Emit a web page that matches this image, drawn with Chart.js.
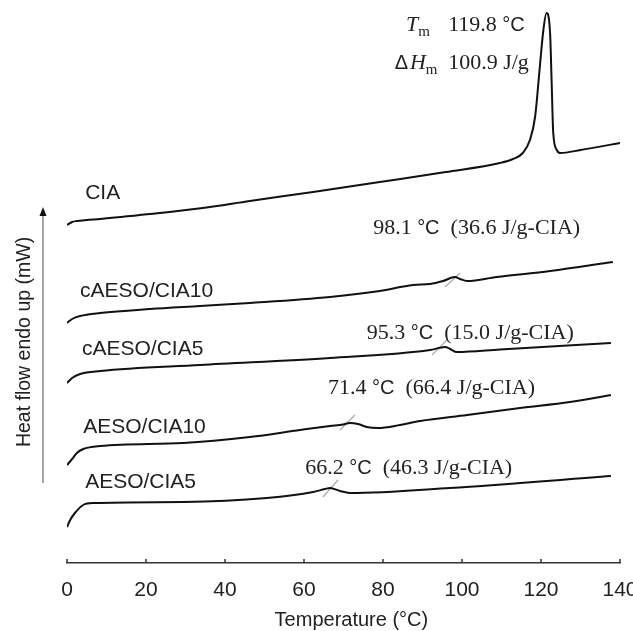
<!DOCTYPE html>
<html><head><meta charset="utf-8">
<script src="https://cdn.jsdelivr.net/npm/chart.js@4.4.0/dist/chart.umd.min.js"></script>
<style>html,body{margin:0;padding:0;background:#fff;}</style>
</head><body>
<canvas id="c" width="633" height="631"></canvas>
<script>
// ---------- data (temperature in °C, heat flow in arbitrary offset units) ----------
const xTicks = [0, 20, 40, 60, 80, 100, 120, 140];
const seriesNames = ['CIA', 'cAESO/CIA10', 'cAESO/CIA5', 'AESO/CIA10', 'AESO/CIA5'];

const ciaT  = [0, 1.3, 2.5, 5, 8.4, 21.0, 34.4, 46.3, 62.3, 79.2, 95.9, 109.6, 112.9, 115.4, 117.2, 118.5, 119.7, 120.6, 121.4, 122.3, 122.7, 123.1, 124.0, 124.8, 130, 140];
const ciaHF = [33.8, 34.1, 34.2, 34.3, 34.4, 34.9, 35.5, 36.2, 37.1, 38.1, 39.1, 40.0, 40.4, 41.0, 42.3, 44.6, 49.6, 53.3, 55.0, 53.0, 48.0, 43.0, 41.3, 41.0, 41.3, 42.0];

const c10T  = [0, 1.3, 3.3, 8.4, 21.0, 33.7, 46.3, 66.6, 79.2, 87.6, 91.9, 95.2, 98.2, 99.5, 101.3, 108.8, 122.3, 138.2];
const c10HF = [24.0, 24.4, 24.7, 25.0, 25.4, 25.7, 26.0, 26.6, 27.2, 27.8, 27.9, 28.2, 28.6, 28.4, 28.2, 28.6, 29.2, 30.1];

const c5T  = [0, 1.3, 3.3, 8.4, 33.7, 66.6, 91.9, 95.7, 97.0, 98.7, 109.6, 137.7];
const c5HF = [18.0, 18.5, 18.9, 19.2, 19.8, 20.5, 21.3, 21.6, 21.4, 21.1, 21.35, 22.0];

const a10T  = [0, 1.3, 2.5, 4.1, 8.4, 29.4, 46.3, 59.0, 66.6, 69.9, 71.6, 73.7, 75.9, 78.7, 84.3, 89.4, 101.3, 114.7, 127.3, 137.7];
const a10HF = [9.8, 10.4, 11.0, 11.4, 11.7, 12.0, 12.6, 13.3, 13.7, 13.85, 14.0, 13.9, 13.6, 13.5, 13.8, 14.2, 14.8, 15.5, 16.1, 16.8];

const a5T  = [0, 0.8, 2.0, 4.1, 6.7, 29.4, 50.6, 62.3, 65.3, 66.6, 69.1, 71.6, 96.9, 137.7];
const a5HF = [3.6, 4.3, 5.0, 5.8, 6.0, 6.1, 6.5, 7.1, 7.4, 7.5, 7.2, 7.0, 7.5, 8.7];

// grey tangent marks at the transitions
const slashT  = [[95.7, 99.5], [92.4, 96.2], [69.1, 72.9], [64.8, 68.6]];
const slashHF = [[27.6, 29.0], [20.8, 22.3], [13.3, 14.8], [6.6, 8.3]];

// annotation texts
const meltTemp = '119.8';
const meltEnthalpy = '100.9';
const transTemp = ['98.1', '95.3', '71.4', '66.2'];
const transEnthalpy = ['36.6', '15.0', '66.4', '46.3'];

// ---------- layout of texts (data coordinates) ----------
const seriesLabelPos = [[4.6, 37.0], [3.3, 27.2], [3.8, 21.4], [4.1, 13.6], [4.6, 8.1]];
const transLabelPos = [[77.5, 33.5], [75.9, 23.0], [66.1, 17.5], [60.3, 9.5]];

const SANS = '"Liberation Sans", Arial, sans-serif';
const SERIF = '"Liberation Serif", "Times New Roman", serif';
const TXT = '#222';

const seriesT = [ciaT, c10T, c5T, a10T, a5T];
const seriesHF = [ciaHF, c10HF, c5HF, a10HF, a5HF];

const datasets = seriesNames.map((n, k) => ({
  label: n,
  data: seriesT[k].map((t, i) => ({x: t, y: seriesHF[k][i]})),
  borderColor: '#111',
  borderWidth: 2,
  pointRadius: 0,
  fill: false,
  cubicInterpolationMode: 'monotone'
}));
slashT.forEach((s, k) => datasets.push({
  label: 'mark' + k,
  data: s.map((t, i) => ({x: t, y: slashHF[k][i]})),
  borderColor: '#aaa',
  borderWidth: 1.2,
  pointRadius: 0,
  fill: false,
  tension: 0
}));

function drawRuns(ctx, x, y, runs) {
  ctx.textBaseline = 'middle';
  ctx.textAlign = 'left';
  for (const r of runs) {
    ctx.font = r.font;
    ctx.fillText(r.text, x, y + (r.dy || 0));
    x += ctx.measureText(r.text).width;
  }
}

const overlay = {
  id: 'overlay',
  afterDraw(chart) {
    const ctx = chart.ctx, xs = chart.scales.x, ys = chart.scales.y, ca = chart.chartArea;
    const px = v => xs.getPixelForValue(v), py = v => ys.getPixelForValue(v);
    ctx.save();
    // inward tick marks
    ctx.strokeStyle = '#333'; ctx.lineWidth = 1.5;
    xTicks.forEach(v => { ctx.beginPath(); ctx.moveTo(px(v), ca.bottom); ctx.lineTo(px(v), ca.bottom - 4); ctx.stroke(); });
    // x title
    ctx.fillStyle = TXT;
    ctx.font = '20px ' + SANS; ctx.textAlign = 'center'; ctx.textBaseline = 'middle';
    ctx.fillText('Temperature (\u00B0C)', px(72), ca.bottom + 57);
    // y arrow
    const ax = ca.left - 24, ay0 = py(8.0), ay1 = py(35.6);
    ctx.strokeStyle = '#888'; ctx.lineWidth = 1.5;
    ctx.beginPath(); ctx.moveTo(ax, ay0); ctx.lineTo(ax, ay1 + 8); ctx.stroke();
    ctx.fillStyle = '#111';
    ctx.beginPath(); ctx.moveTo(ax, ay1); ctx.lineTo(ax - 3.5, ay1 + 9); ctx.lineTo(ax + 3.5, ay1 + 9); ctx.closePath(); ctx.fill();
    // y title
    ctx.save();
    ctx.translate(ca.left - 42, py(22.1));
    ctx.rotate(-Math.PI / 2);
    ctx.fillStyle = TXT; ctx.font = '19.5px ' + SANS; ctx.textAlign = 'center'; ctx.textBaseline = 'middle';
    ctx.fillText('Heat flow endo up (mW)', 0, 0);
    ctx.restore();
    // series labels
    ctx.fillStyle = TXT;
    seriesNames.forEach((n, k) => {
      drawRuns(ctx, px(seriesLabelPos[k][0]), py(seriesLabelPos[k][1]), [{text: n, font: '21px ' + SANS}]);
    });
    // transition annotations
    transTemp.forEach((t, k) => {
      drawRuns(ctx, px(transLabelPos[k][0]), py(transLabelPos[k][1]), [
        {text: t + ' ', font: '22px ' + SERIF},
        {text: '\u00B0C', font: '20px ' + SANS},
        {text: '  (' + transEnthalpy[k] + ' J/g-CIA)', font: '22px ' + SERIF}
      ]);
    });
    // melting annotation
    drawRuns(ctx, px(85.8), py(53.8), [
      {text: 'T', font: 'italic 22px ' + SERIF},
      {text: 'm', font: '15px ' + SERIF, dy: 7}
    ]);
    drawRuns(ctx, px(96.5), py(53.8), [
      {text: meltTemp + ' ', font: '22px ' + SERIF},
      {text: '\u00B0C', font: '20px ' + SANS}
    ]);
    drawRuns(ctx, px(83.0), py(50.0), [
      {text: '\u0394', font: '20px ' + SANS},
      {text: ' ', font: '6px ' + SANS},
      {text: 'H', font: 'italic 22px ' + SERIF},
      {text: 'm', font: '15px ' + SERIF, dy: 7}
    ]);
    drawRuns(ctx, px(96.5), py(50.0), [
      {text: meltEnthalpy + ' J/g', font: '22px ' + SERIF}
    ]);
    ctx.restore();
  }
};

new Chart(document.getElementById('c'), {
  type: 'line',
  data: {datasets},
  options: {
    responsive: false,
    animation: false,
    devicePixelRatio: 1,
    layout: {padding: {left: 67, right: 13, top: 5, bottom: 0}},
    plugins: {legend: {display: false}, tooltip: {enabled: false}},
    scales: {
      x: {
        type: 'linear', min: 0, max: 140,
        afterBuildTicks: s => { s.ticks = xTicks.map(v => ({value: v})); },
        ticks: {font: {size: 21, family: SANS}, color: TXT, padding: 15, maxRotation: 0},
        grid: {display: true, drawOnChartArea: false, drawTicks: false},
        border: {display: true, color: '#333', width: 1.5},
        afterFit: s => { s.height = 68; s.paddingLeft = 0; s.paddingRight = 0; }
      },
      y: {type: 'linear', min: 0, max: 55.8, display: false}
    }
  },
  plugins: [overlay]
});
</script>
</body></html>
